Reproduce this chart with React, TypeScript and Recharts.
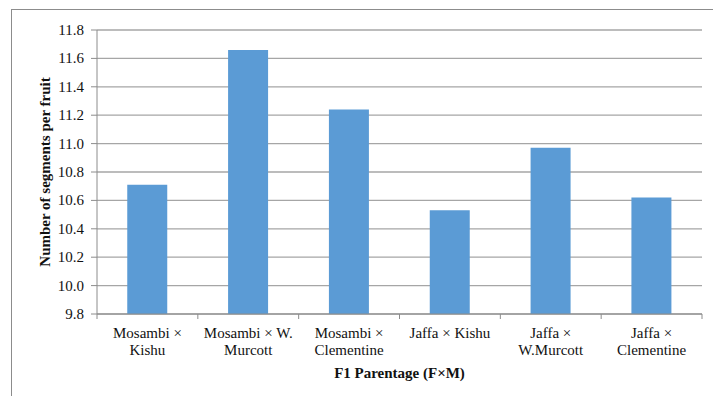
import { Bar, BarChart, CartesianGrid, XAxis, YAxis } from "recharts"

const categories = [
  "Mosambi ×\nKishu",
  "Mosambi × W.\nMurcott",
  "Mosambi ×\nClementine",
  "Jaffa × Kishu",
  "Jaffa ×\nW.Murcott",
  "Jaffa ×\nClementine",
]
const segments = [10.71, 11.66, 11.24, 10.53, 10.97, 10.62]
const yTicks = [9.8, 10.0, 10.2, 10.4, 10.6, 10.8, 11.0, 11.2, 11.4, 11.6, 11.8]

const FONT = "'Liberation Serif', 'Times New Roman', serif"
const AXIS = "#8c8c8c"
const TEXT = "#111"

const data = categories.map((name, i) => ({ name, value: segments[i] }))

function CategoryTick(props: any) {
  const { x, y, payload, index } = props
  const half = payload.offset || 0
  const lines = String(payload.value).split("\n")
  return (
    <g>
      <line x1={x - half} y1={y} x2={x - half} y2={y + 5} stroke={AXIS} />
      {index === categories.length - 1 && (
        <line x1={x + half} y1={y} x2={x + half} y2={y + 5} stroke={AXIS} />
      )}
      <text x={x} y={y} textAnchor="middle" fontFamily={FONT} fontSize={15} fill={TEXT}>
        {lines.map((l, i) => (
          <tspan key={i} x={x} dy={i === 0 ? 24 : 17}>
            {l}
          </tspan>
        ))}
      </text>
    </g>
  )
}

function ValueTick(props: any) {
  const { x, y, payload } = props
  return (
    <text x={x} y={y} dy={5} textAnchor="end" fontFamily={FONT} fontSize={15} fill={TEXT}>
      {Number(payload.value).toFixed(1)}
    </text>
  )
}

export default function App() {
  return (
    <div
      style={{
        position: "absolute",
        left: 0,
        top: 0,
        width: 713,
        height: 396,
        overflow: "hidden",
        background: "#fff",
      }}
    >
      <div
        style={{
          position: "absolute",
          left: 11,
          top: 9,
          width: 800,
          height: 500,
          border: `1px solid ${AXIS}`,
        }}
      />
      <div style={{ position: "absolute", left: 0, top: 0 }}>
        <BarChart
          width={713}
          height={396}
          data={data}
          margin={{ top: 30, right: 11, left: 11, bottom: 12 }}
          barCategoryGap="30%"
        >
          <CartesianGrid vertical={false} stroke="#a6a6a6" strokeWidth={1.3} />
          <XAxis
            dataKey="name"
            height={70}
            interval={0}
            tickLine={false}
            tickSize={0}
            tickMargin={0}
            axisLine={{ stroke: AXIS }}
            tick={<CategoryTick />}
            label={{
              value: "F1 Parentage (F×M)",
              position: "insideBottom",
              offset: 6,
              style: { fontFamily: FONT, fontSize: 15, fontWeight: 700, fill: TEXT },
            }}
          />
          <YAxis
            width={86}
            domain={[9.8, 11.8]}
            ticks={yTicks}
            interval={0}
            allowDataOverflow
            tickSize={6}
            tickMargin={7}
            axisLine={{ stroke: AXIS }}
            tickLine={{ stroke: AXIS }}
            tick={<ValueTick />}
            label={{
              value: "Number of segments per fruit",
              angle: -90,
              position: "center",
              dx: -9,
              style: { fontFamily: FONT, fontSize: 15, fontWeight: 700, fill: TEXT },
            }}
          />
          <Bar dataKey="value" fill="#5b9bd5" isAnimationActive={false} />
        </BarChart>
      </div>
    </div>
  )
}
